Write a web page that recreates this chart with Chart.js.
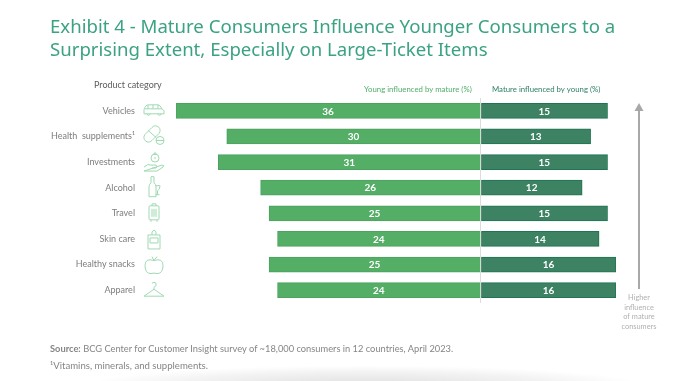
<!DOCTYPE html>
<html>
<head>
<meta charset="utf-8">
<script src="https://cdn.jsdelivr.net/npm/chart.js@4/dist/chart.umd.min.js"></script>
<style>
  html, body { margin: 0; padding: 0; background: #fff; width: 700px; height: 381px; overflow: hidden; }
  body { position: relative; font-family: Lato, sans-serif; }
  #wrap { position: absolute; left: 0; top: 0; width: 700px; height: 381px; }
  .txt { position: absolute; white-space: nowrap; }
  #title { left: 50px; top: 14px; font-family: "Noto Sans", sans-serif; font-size: 18.6px; line-height: 23px; color: #3ba283; }
  #source { left: 50px; top: 342px; font-size: 9.3px; line-height: 13px; color: #858585; }
  #note { left: 50px; top: 359px; font-size: 9.6px; line-height: 13px; color: #858585; }
  #source b { font-weight: 700; }
  #shade { position: absolute; left: 90px; top: 366px; width: 550px; height: 40px;
           background: radial-gradient(ellipse at center, #dedede 0%, #f3f3f3 50%, #fff 72%); }
</style>
</head>
<body>
<div id="shade"></div>
<div id="wrap"><canvas id="exhibit"></canvas></div>
<div id="title" class="txt">Exhibit 4 - Mature Consumers Influence Younger Consumers to a<br>Surprising Extent, Especially on Large-Ticket Items</div>
<div id="source" class="txt"><b>Source:</b> BCG Center for Customer Insight survey of ~18,000 consumers in 12 countries, April 2023.</div>
<div id="note" class="txt">¹Vitamins, minerals, and supplements.</div>
<script>
const categories = ['Vehicles', 'Health  supplements¹', 'Investments', 'Alcohol', 'Travel', 'Skin care', 'Healthy snacks', 'Apparel'];
const youngByMature = [36, 30, 31, 26, 25, 24, 25, 24];
const matureByYoung = [15, 13, 15, 12, 15, 14, 16, 16];
const seriesNames = ['Young influenced by mature (%)', 'Mature influenced by young (%)'];
const arrowNote = ['Higher', 'influence', 'of mature', 'consumers'];

const FONT = 'Lato, sans-serif';

// little outline icons next to the category names, one svg path per category
const icons = [
  'M-10 4 L-10 0 Q-9 -5 -5 -5 L4 -5 Q6 -5 8 -1 L10 1 L10 4 Z M-9 -1 L8 -1 M-6 -5 L-6 -1 M-1 -5 L-1 -1 M4 -5 L4 -1 M-7 4 a1.5 1.5 0 0 0 3 0 M4 4 a1.5 1.5 0 0 0 3 0',
  'M-9 -1 L-2 -8 A4.5 4.5 0 0 1 5 -2 L-2 5 A4.5 4.5 0 0 1 -9 -1 Z M-6 -5 L2 2 M6 5 m-4 0 a4 4 0 1 0 8 0 a4 4 0 1 0 -8 0 M2 5 L10 5',
  'M-10 5 Q-6 1 -3 3 L2 3 Q4 4 2 6 L-2 6 M2 5 L8 3 Q11 3 9 5 L3 9 L-10 9 Z M1 -7 m-4 3 a4 4 0 1 0 8 0 a4 4 0 1 0 -8 0 M-1 -8 L3 -8 M1 -10 L1 -8 M1 -5 L1 -3',
  'M-3 -10 L0 -10 L0 -4 Q2 -2 2 0 L2 10 L-5 10 L-5 0 Q-5 -2 -3 -4 Z M1 -1 L6 -1 Q6 3 3.5 4 L3.5 8 M1.5 8 L5.5 8',
  'M-4 -7 L4 -7 Q5 -7 5 -6 L5 6 Q5 7 4 7 L-4 7 Q-5 7 -5 6 L-5 -6 Q-5 -7 -4 -7 Z M-2 -7 L-2 -9 L2 -9 L2 -7 M-2 -4 L-2 4 M0 -4 L0 4 M2 -4 L2 4 M-3 7 L-3 9 M3 7 L3 9',
  'M-6 -4 L6 -4 L6 10 L-6 10 Z M-2 -4 L-2 -7 L0 -9 L2 -7 L2 -4 M-4 -1 L4 -1 L4 4 L-4 4 Z',
  'M0 -4 Q-9 -7 -9 1 Q-9 9 -3 9 Q0 8 3 9 Q9 9 9 1 Q9 -7 0 -4 Z M0 -4 L-2 -8 M0 -4 L3 -8',
  'M-10 6 L0 -1 L10 6 Z M0 -1 L0 -3 Q3 -4 2 -7 Q0 -9 -2 -7'
];
const iconNudge = [-1, -1, 0, -1, -0.5, 0, 0, 0];

// values inside the bars, arrow on the right, the header texts
const overlay = {
  id: 'overlay',
  afterDatasetsDraw(chart) {
    const ctx = chart.ctx;
    const yScale = chart.scales.y;

    ctx.save();
    ctx.textAlign = 'center';
    ctx.textBaseline = 'middle';
    ctx.fillStyle = '#fff';
    ctx.font = '700 10px ' + FONT;
    chart.data.datasets.forEach((ds, d) => {
      chart.getDatasetMeta(d).data.forEach((bar, i) => {
        const p = bar.getProps(['x', 'y', 'base'], true);
        ctx.fillText(ds.data[i] < 0 ? -ds.data[i] : ds.data[i], (p.x + p.base) / 2, p.y + 0.5);
      });
    });

    // icons
    ctx.strokeStyle = '#9fd9b2';
    ctx.lineWidth = 1;
    icons.forEach((d, i) => {
      ctx.save();
      ctx.translate(154, yScale.getPixelForValue(i) + iconNudge[i]);
      ctx.stroke(new Path2D(d));
      ctx.restore();
    });

    // headers
    ctx.textBaseline = 'middle';
    ctx.textAlign = 'left';
    ctx.font = '9px ' + FONT;
    ctx.fillStyle = '#5c5c5c';
    ctx.fillText('Product category', 94, 85);
    ctx.font = '7.8px ' + FONT;
    ctx.fillStyle = '#4fae6a';
    ctx.fillText(seriesNames[0], 364, 89);
    ctx.fillStyle = '#2f8064';
    ctx.fillText(seriesNames[1], 492, 89);

    // arrow
    ctx.strokeStyle = '#a8a8a8';
    ctx.fillStyle = '#a8a8a8';
    ctx.lineWidth = 2;
    ctx.beginPath();
    ctx.moveTo(639, 110);
    ctx.lineTo(639, 289);
    ctx.stroke();
    ctx.beginPath();
    ctx.moveTo(639, 103);
    ctx.lineTo(643.5, 111);
    ctx.lineTo(634.5, 111);
    ctx.closePath();
    ctx.fill();

    ctx.textAlign = 'center';
    ctx.font = '7.4px ' + FONT;
    ctx.fillStyle = '#b0b0b0';
    arrowNote.forEach((line, i) => ctx.fillText(line, 639, 298 + i * 9.4));
    ctx.restore();
  }
};

new Chart(document.getElementById('exhibit'), {
  type: 'bar',
  data: {
    labels: categories,
    datasets: [
      {
        label: seriesNames[0],
        data: youngByMature.map(v => -v),
        backgroundColor: '#54ae66',
        borderColor: '#4aa35e',
        borderWidth: 1,
        barThickness: 15
      },
      {
        label: seriesNames[1],
        data: matureByYoung,
        backgroundColor: '#3c8263',
        borderColor: '#1e7453',
        borderWidth: 1,
        barThickness: 15
      }
    ]
  },
  options: {
    indexAxis: 'y',
    responsive: true,
    maintainAspectRatio: false,
    animation: false,
    layout: { padding: { top: 98, right: 84, bottom: 78, left: 0 } },
    plugins: { legend: { display: false }, tooltip: { enabled: false } },
    scales: {
      x: {
        stacked: true,
        min: -36,
        max: 16,
        border: { display: false },
        ticks: { display: false },
        grid: {
          drawTicks: false,
          color: ctx => ctx.tick.value === 0 ? '#dcdcdc' : 'transparent'
        },
        afterFit: s => { s.height = 0; }
      },
      y: {
        stacked: true,
        border: { display: false },
        grid: { display: false, drawTicks: false },
        ticks: { color: '#7d7d7d', padding: 41, font: { family: FONT, size: 9 } },
        afterFit: s => { s.width = 176; }
      }
    }
  },
  plugins: [overlay]
});
</script>
</body>
</html>
